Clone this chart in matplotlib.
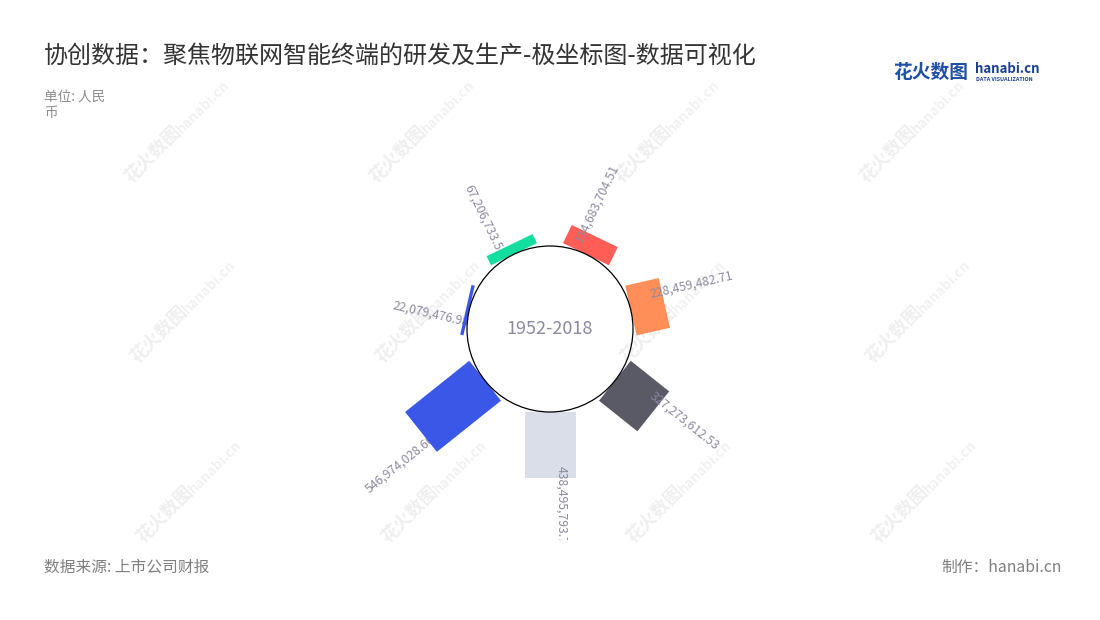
import numpy as np
import matplotlib
matplotlib.use('Agg')
import matplotlib.pyplot as plt
from matplotlib.patches import Rectangle, Circle
from matplotlib.transforms import Affine2D

plt.rcParams['font.family'] = ['Noto Sans CJK SC', 'DejaVu Sans']

# data (clockwise from the top)
values = [134683704.51, 228459482.71, 327273612.53, 438495793.70,
          546974028.66, 22079476.98, 67206733.52]
labels = ['134,683,704.51', '228,459,482.71', '327,273,612.53', '438,495,793.70',
          '546,974,028.66', '22,079,476.98', '67,206,733.52']
colors = ['#FF5D55', '#FF8E58', '#5A5A66', '#DADEE9', '#3A57E8', '#3A57E8', '#14DE9F']
center_text = '1952-2018'

W, H = 1100, 620
cx, cy = 550, 329          # centre of polar area (px, from top)
r0 = 83                    # hole radius, px
bar_w = 51                 # bar width, px
k = 0.15e-6                # px per yuan

fig = plt.figure(figsize=(W / 100, H / 100), dpi=100)
fig.patch.set_facecolor('white')

# background layer in pixel coords (y down)
bg = fig.add_axes([0, 0, 1, 1])
bg.set_xlim(0, W)
bg.set_ylim(H, 0)
bg.axis('off')

# watermarks
for i in range(3):
    for j in range(4):
        x0 = 134 + 245 * j + 6 * i
        y0 = 186 + 180 * i
        bg.text(x0, y0, '花火数图', rotation=45, rotation_mode='anchor',
                ha='left', va='bottom', fontsize=13, fontweight='bold',
                color='#000000', alpha=0.065)
        bg.text(x0 + 50, y0 - 50, 'hanabi.cn', rotation=45, rotation_mode='anchor',
                ha='left', va='bottom', fontsize=10, fontweight='bold',
                color='#000000', alpha=0.06)

# titles
bg.text(44, 56, '协创数据：聚焦物联网智能终端的研发及生产-极坐标图-数据可视化',
        fontsize=17.3, color='#333333', va='center', ha='left')
bg.text(44, 97, '单位: 人民', fontsize=9.8, color='#8C8C8C', va='center')
bg.text(44, 113, '币', fontsize=9.8, color='#8C8C8C', va='center')
bg.text(44, 567, '数据来源: 上市公司财报', fontsize=11.3, color='#7F7F7F', va='center')
bg.text(1062, 567, '制作：hanabi.cn', fontsize=11.3, color='#7F7F7F', va='center', ha='right')

# logo
bg.text(893, 72, '花火数图', fontsize=13.5, fontweight='bold', color='#1F4FA6', va='center')
bg.text(975, 69, 'hanabi.cn', fontsize=9.5, fontweight='bold', color='#1B3F8F', va='center')
bg.text(976, 79.5, 'DATA VISUALIZATION', fontsize=3.9, fontweight='bold', color='#1B3F8F', va='center')

# chart axes: units are pixels, origin at the polar centre, y up
top_px, bot_px = 100, 540
ax = fig.add_axes([0, (H - bot_px) / H, 1, (bot_px - top_px) / H])
ax.set_xlim(-cx, W - cx)
ax.set_ylim(-(bot_px - cy), cy - top_px)
ax.axis('off')

n = len(values)
step = 360 / n
for i, (v, lab, col) in enumerate(zip(values, labels, colors)):
    theta = (i + 0.5) * step            # clockwise from top
    length = v * k
    rot = Affine2D().rotate_deg(90 - theta) + ax.transData
    ax.add_patch(Rectangle((r0, -bar_w / 2), length, bar_w, facecolor=col,
                           edgecolor='none', transform=rot, zorder=3))
    t = np.deg2rad(theta)
    u = np.array([np.sin(t), np.cos(t)])
    tang = np.array([np.cos(t), -np.sin(t)])
    outer = r0 + length
    if theta <= 180:
        pos = (outer - 12) * u - 12 * tang
        ax.text(pos[0], pos[1], lab, rotation=90 - theta, rotation_mode='anchor',
                ha='left', va='center', fontsize=8.8, fontweight='medium',
                color='#8A8AA0', zorder=4, clip_on=True)
    else:
        pos = (outer - 6) * u - 12 * tang
        ax.text(pos[0], pos[1], lab, rotation=270 - theta, rotation_mode='anchor',
                ha='right', va='center', fontsize=8.8, fontweight='medium',
                color='#8A8AA0', zorder=2, clip_on=True)

ax.add_patch(Circle((0, 0), r0, fill=False, edgecolor='black', lw=0.9, zorder=5))
ax.text(0, 0, center_text, ha='center', va='center', fontsize=13, color='#8A8AA0', zorder=6)

fig.savefig('out.png', dpi=100)
